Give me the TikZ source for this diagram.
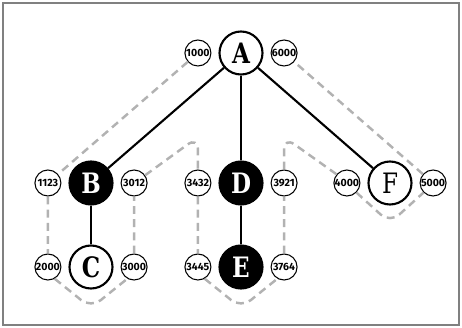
\documentclass[tikz,border=0pt]{standalone}
\usepackage{fontspec}
\newfontfamily\letterfont[FakeStretch=0.82]{DejaVu Serif}
\newfontfamily\numberfont{Fira Sans}
\usepackage{tikz}
\usetikzlibrary{positioning}

\begin{document}
\begin{tikzpicture}[-,very thick,
    main node/.style={circle,draw,line width=1.2pt,minimum size=0.86cm,inner sep=0pt,font=\letterfont\bfseries\fontsize{16}{16}\selectfont},
    dark node/.style={main node,fill=black,text=white},
    num node/.style={circle,draw,line width=0.6pt,minimum size=0.52cm,inner sep=0pt,font=\numberfont\bfseries\fontsize{6}{6}\selectfont},
    nested/.style={gray!60,line width=1.4pt,dash pattern=on 4.5pt off 3pt,rounded corners=0.25cm}]
      \useasboundingbox (-4.82,1.06) rectangle (4.42,-5.5);
      \draw[gray,line width=0.6pt] (-4.76,1.0) rectangle (4.36,-5.44);

      \node [main node] (A) at (0,0) {A};
      \node [dark node] (B) at (-3,-2.6) {B};
      \node [main node] (C) at (-3,-4.28) {C};
      \node [dark node] (D) at (0,-2.6) {D};
      \node [dark node] (E) at (0,-4.28) {E};
      \node [main node, font=\letterfont\fontsize{16}{16}\selectfont] (F) at (2.98,-2.6) {F};

      % left and right numbers of every node
      \foreach \n/\l/\r in {A/1000/6000, B/1123/3012, C/2000/3000, D/3432/3921, E/3445/3764, F/4000/5000} {
        \node [num node, left=0.14cm of \n] (l\n) {\l};
        \node [num node, right=0.14cm of \n] (r\n) {\r};
      }

      \draw (A) -- (B);
      \draw (A) -- (D);
      \draw (A) -- (F);
      \draw (B) -- (C);
      \draw (D) -- (E);

      \coordinate (bC) at ([yshift=-0.82cm]C.center);
      \coordinate (bE) at ([yshift=-0.82cm]E.center);
      \coordinate (bF) at ([yshift=-0.8cm]F.center);
      \coordinate (kD) at ([yshift=0.92cm]lD.center);
      \coordinate (kF) at ([yshift=0.92cm]rD.center);

      \draw [nested] (lA.221) -- (lB.41)
        (lB.south) -- (lC.north)
        (lC.-60) -- (bC) -- (rC.240)
        (rC.north) -- (rB.south)
        (rB.35) -- (kD) -- (lD.north)
        (lD.south) -- (lE.north)
        (lE.-60) -- (bE) -- (rE.240)
        (rE.north) -- (rD.south)
        (rD.north) -- (kF) -- (lF.140)
        (lF.-45) -- (bF) -- (rF.225)
        (rF.139) -- (rA.-41);

    \end{tikzpicture}
\end{document}
